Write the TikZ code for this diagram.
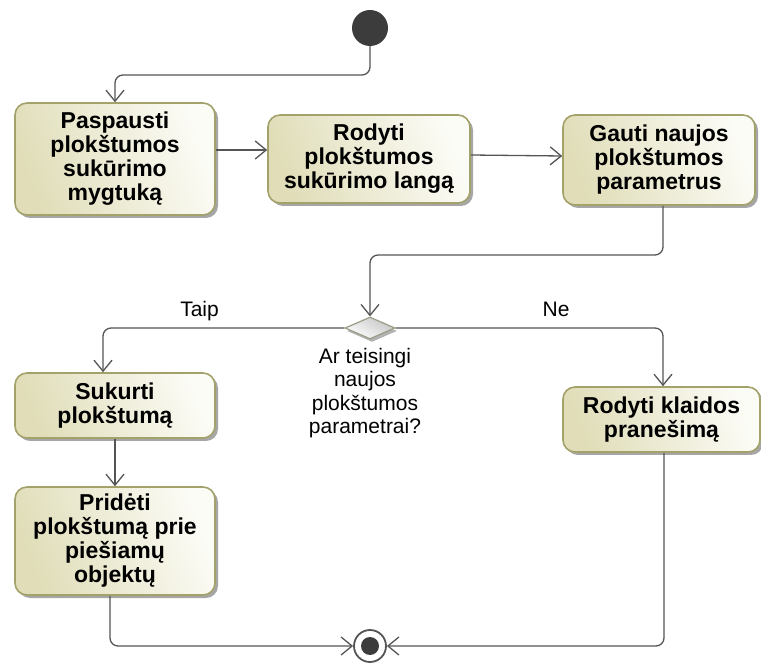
\documentclass[tikz,border=0pt]{standalone}
\usepackage{fontspec}
\setmainfont{Liberation Sans}
\usetikzlibrary{arrows.meta,shapes.geometric,shadows}

\definecolor{actborder}{HTML}{A3A26A}
\definecolor{actdark}{HTML}{E0DDB8}
\definecolor{actlight}{HTML}{FCFCF7}
\definecolor{flowline}{HTML}{555555}
\definecolor{nodedot}{HTML}{3C3C3C}
\definecolor{decborder}{HTML}{9C9C86}

\tikzset{
  action/.style={draw=actborder, line width=1.6pt, rounded corners=12pt,
    left color=actdark, right color=actlight, shading angle=110,
    drop shadow={shadow xshift=3pt, shadow yshift=-3pt, fill=black, opacity=.35},
    align=center, inner sep=2pt,
    font=\bfseries\fontsize{23}{24}\selectfont},
  flow/.style={draw=flowline, line width=1.3pt, rounded corners=8pt,
    -{Straight Barb[length=11pt,width=18pt,line width=1.3pt]}},
  guard/.style={font=\fontsize{21}{23.5}\selectfont, inner sep=0pt},
  decision/.style={diamond, draw=decborder, line width=1.2pt, inner sep=0pt,
    minimum width=50pt, minimum height=22pt,
    left color=white, right color=gray!45, shading angle=150,
    drop shadow={shadow xshift=2pt, shadow yshift=-3pt, fill=black, opacity=.3}},
}

\begin{document}
\begin{tikzpicture}[x=1pt, y=-1pt]
  \useasboundingbox (0,0) rectangle (761,668);

  % start and end markers
  \node[circle, fill=nodedot, minimum size=36pt, inner sep=0pt] (init) at (370,28) {};
  \node[circle, draw=flowline, fill=white, line width=1.8pt, minimum size=32pt, inner sep=0pt] (fin) at (370,646) {};
  \node[circle, fill=nodedot, minimum size=18pt, inner sep=0pt] (findot) at (fin) {};

  % actions
  \node[action, minimum width=200pt, minimum height=112pt] (b1) at (115,159) {Paspausti\\plokštumos\\sukūrimo\\mygtuką};
  \node[action, minimum width=202pt, minimum height=88pt] (b2) at (369,159) {Rodyti\\plokštumos\\sukūrimo langą};
  \node[action, minimum width=192pt, minimum height=90pt] (b3) at (659,160) {Gauti naujos\\plokštumos\\parametrus};
  \node[action, minimum width=200pt, minimum height=65pt] (b4) at (115,405.5) {Sukurti\\plokštumą};
  \node[action, minimum width=200pt, minimum height=108pt] (b5) at (115,541) {Pridėti\\plokštumą prie\\piešiamų\\objektų};
  \node[action, minimum width=197pt, minimum height=65pt] (b6) at (661.5,419.5) {Rodyti klaidos\\pranešimą};

  % decision
  \node[decision] (dec) at (370,328) {};
  \node[guard, align=center, anchor=north] (cond) at (365,348) {Ar teisingi\\naujos\\plokštumos\\parametrai?};

  % bend points
  \coordinate (k1) at (115,75);
  \coordinate (k2) at (370,255);

  % control flows
  \draw[flow] (init) |- (k1) -- (b1);
  \draw[flow] ([yshift=9pt]b1.east) -- ([yshift=9pt]b2.west);
  \draw[flow] ([yshift=4pt]b2.east) -- ([yshift=4pt]b3.west);
  \draw[flow] ([xshift=4pt]b3.south) |- (k2) -- (dec);
  \draw[flow] (dec.west) -| node[guard, pos=0.3, anchor=base, yshift=11pt] (taip) {Taip} ([xshift=-12pt]b4.north);
  \draw[flow] (dec.east) -| node[guard, pos=0.3, anchor=base, yshift=11pt] (ne) {Ne} ([xshift=1.5pt]b6.north);
  \draw[flow] (b4) -- (b5);
  \draw[flow] ([xshift=-5pt]b5.south) |- (fin);
  \draw[flow] ([xshift=2.5pt]b6.south) |- (fin);
\end{tikzpicture}
\end{document}
